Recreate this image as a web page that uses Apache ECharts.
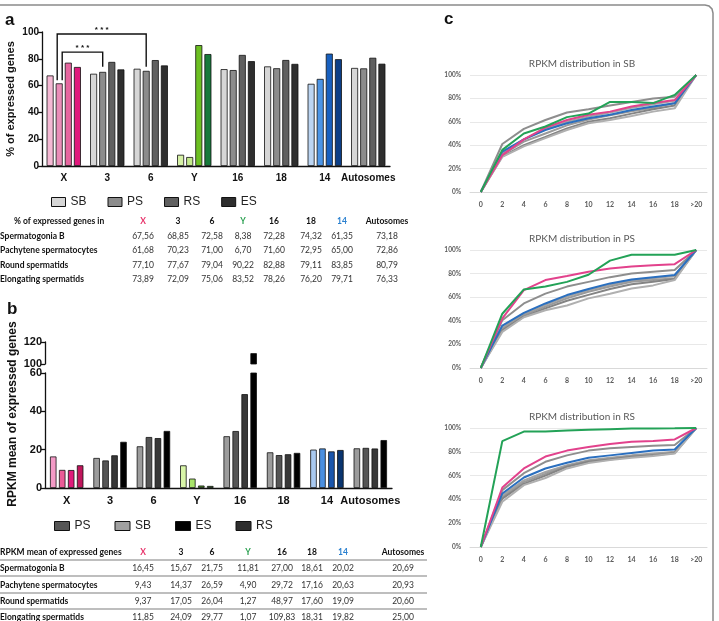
<!DOCTYPE html>
<html><head><meta charset="utf-8">
<script src="https://cdn.jsdelivr.net/npm/echarts@6/dist/echarts.min.js"></script>
<style>html,body{margin:0;padding:0;background:#fff}#c{width:719px;height:621px}</style>
</head><body><div id="c"></div>
<script>
// ---------- DATA ----------
const chromosomes = ['X','3','6','Y','16','18','14','Autosomes'];
const stages = ['SB','PS','RS','ES'];
const stageNames = ['Spermatogonia B','Pachytene spermatocytes','Round spermatids','Elongating spermatids'];
// % of expressed genes (panel a)
const pctSB = [67.56,68.85,72.58,8.38,72.28,74.32,61.35,73.18];
const pctPS = [61.68,70.23,71.00,6.70,71.60,72.95,65.00,72.86];
const pctRS = [77.10,77.67,79.04,90.22,82.88,79.11,83.85,80.79];
const pctES = [73.89,72.09,75.06,83.52,78.26,76.20,79.71,76.33];
// RPKM mean of expressed genes (panel b)
const rpkmSB = [16.45,15.67,21.75,11.81,27.00,18.61,20.02,20.69];
const rpkmPS = [9.43,14.37,26.59,4.90,29.72,17.16,20.63,20.93];
const rpkmRS = [9.37,17.05,26.04,1.27,48.97,17.60,19.09,20.60];
const rpkmES = [11.85,24.09,29.77,1.07,109.83,18.31,19.82,25.00];
// RPKM distribution (panel c), cumulative %
const rpkmBins = ['0','2','4','6','8','10','12','14','16','18','>20'];
const lineNames = ['3','6','16','18','Autosomes','14','X','Y'];
const sb3    = [0,41,54,61.5,68,70.7,74,77,80,81.5,100];
const sb6    = [0,33,45,54,60,64.5,68,72,75,78,100];
const sb16   = [0,32,43,50,57,62,65.5,69,72,76,100];
const sb18   = [0,30.5,40,47,54.4,60,63,67,70.7,74,100];
const sbAuto = [0,30,39,46,53,58.7,61.5,65,68.7,71.5,100];
const sb14   = [0,34.5,45,53,58.7,63,66,70,73,75.8,100];
const sbX    = [0,31.5,45,55,61.5,66,68.7,73,76,78.6,100];
const sbY    = [0,36,50,56,64,67,77,77,76,83,100];
const ps3    = [0,40.5,54.7,63,69,73,77,80,81.6,83,100];
const ps6    = [0,34,46,53.5,60.5,66,70.5,74,76,78,100];
const ps16   = [0,33,44.8,52,59,64.6,69,73,74.5,76,100];
const ps18   = [0,32,43.5,50.5,57,62,67,71,73,75.5,100];
const psAuto = [0,30.6,43,49,53,59,63,67.4,70,74.5,100];
const ps14   = [0,36,46.7,54.7,61.8,67,71.7,75,77,78.8,100];
const psX    = [0,42,66,74.5,78,81.6,84.4,86,87,88,100];
const psY    = [0,46,66.6,69,73,79,91,96,96,96,100];
const rs3    = [0,47.8,62,71.6,77,81,83,84,85,85.7,100];
const rs6    = [0,43.5,56,63,68.8,73,75,77,78.6,80,100];
const rs16   = [0,42,54.5,61.5,68,72.3,74.3,76.4,77.8,79.5,100];
const rs18   = [0,40.7,53,60,67.4,71.6,73.6,75.8,77,79,100];
const rsAuto = [0,38,52,58,66,70.5,73,75,76.5,78.5,100];
const rs14   = [0,45,58.4,66,70.8,75,77,79,81,82,100];
const rsX    = [0,50,66,76,81,84,86.5,88.5,89,90.4,100];
const rsY    = [0,89,97,97,98,98.5,99,99.5,99.5,99.7,100];

// ---------- STYLES ----------
const FF = "'Liberation Sans', Arial, sans-serif";
const TF = "Lato, 'Open Sans', sans-serif";
const palA = {
  X: ['#f5b9d4','#ea8db8','#e6669f','#e0187c'],
  Y: ['#d6f1a6','#c4ea8c','#6cbf22','#17793b'],
  '14': ['#bcd5f2','#4c95e6','#1860bf','#0c3e86'],
  gray: ['#d6d6d6','#8c8c8c','#606060','#2e2e2e']
};
const palB = {
  X: ['#f39ac6','#ea5c97','#e01a7b','#c0165c'],
  Y: ['#d8f5a8','#a8e46a','#4a8f24','#2e6a20'],
  '14': ['#a9c9f0','#4a8fe0','#1a56ad','#0a3570'],
  gray: ['#9c9c9c','#555555','#383838','#000000']
};
const grp = c => (c === 'X' || c === 'Y' || c === '14') ? c : 'gray';
const lineColors = {'3':'#8e8e8e','6':'#a4a4a4','16':'#9a9a9a','18':'#848484','Autosomes':'#b0b0b0','14':'#2a6fbf','X':'#e2428c','Y':'#23a257'};

const pctAll = [pctSB,pctPS,pctRS,pctES];
const rpkmAll = [rpkmSB,rpkmPS,rpkmRS,rpkmES];
const cData = [
  {title:'RPKM distribution in SB', top:75, h:117, d:{'3':sb3,'6':sb6,'16':sb16,'18':sb18,'Autosomes':sbAuto,'14':sb14,'X':sbX,'Y':sbY}},
  {title:'RPKM distribution in PS', top:250, h:118, d:{'3':ps3,'6':ps6,'16':ps16,'18':ps18,'Autosomes':psAuto,'14':ps14,'X':psX,'Y':psY}},
  {title:'RPKM distribution in RS', top:428, h:119, d:{'3':rs3,'6':rs6,'16':rs16,'18':rs18,'Autosomes':rsAuto,'14':rs14,'X':rsX,'Y':rsY}}
];

const blk = '#111';
function catAxis(gi, fs, show) {
  return {type:'category', gridIndex:gi, data:chromosomes, show:show!==false,
    axisLine:{lineStyle:{color:blk,width:1.3}}, axisTick:{show:false},
    axisLabel:{interval:0, fontFamily:FF,fontWeight:'bold',fontSize:fs,color:blk,margin:7}};
}
function valAxis(gi, min, max, fs) {
  return {type:'value', gridIndex:gi, min:min, max:max, interval:20,
    axisLine:{show:true,lineStyle:{color:blk,width:1.3}},
    axisTick:{show:true,length:4,lineStyle:{color:blk,width:1.3}},
    splitLine:{show:false},
    axisLabel:{fontFamily:FF,fontWeight:'bold',fontSize:fs,color:blk,margin:3}};
}

const grids = [
  {left:42, width:348, top:32, height:134},
  {left:45, width:347, top:373, height:115},
  {left:45, width:347, top:342, height:22}
];
const xAxes = [catAxis(0,10), catAxis(1,11), catAxis(2,11,false)];
const yAxes = [valAxis(0,0,100,10), valAxis(1,0,60,11), valAxis(2,100,120,11)];
const series = [];
stages.forEach((s,si)=>{
  series.push({type:'bar', name:s, xAxisIndex:0, yAxisIndex:0, barWidth:7, barGap:'30%',
    itemStyle:{color:palA.gray[si], borderColor:blk, borderWidth:0.8},
    data: pctAll[si].map((v,i)=>({value:v, itemStyle:{color:palA[grp(chromosomes[i])][si]}}))});
});
[1,2].forEach(gi=>{
  stages.forEach((s,si)=>{
    series.push({type:'bar', name:s, xAxisIndex:gi, yAxisIndex:gi, barWidth:6.5, barGap:'38%', clip:true,
      itemStyle:{color:palB.gray[si], borderColor:blk, borderWidth:0.8},
      data: rpkmAll[si].map((v,i)=>({value:v, itemStyle:{color:palB[grp(chromosomes[i])][si]}}))});
  });
});
const titles = [];
cData.forEach((c,k)=>{
  const gi = 3+k;
  grids.push({left:470, width:237, top:c.top, height:c.h});
  xAxes.push({type:'category', gridIndex:gi, data:rpkmBins, boundaryGap:true,
    axisLine:{lineStyle:{color:'#d9d9d9',width:1}}, axisTick:{show:false},
    axisLabel:{interval:0, fontFamily:TF,fontWeight:'bold',fontSize:7,color:'#595959',margin:9}});
  yAxes.push({type:'value', gridIndex:gi, min:0, max:100, interval:20,
    axisLine:{show:false}, axisTick:{show:false},
    splitLine:{lineStyle:{color:'#e8e8e8',width:1}},
    axisLabel:{fontFamily:TF,fontWeight:'bold',fontSize:6.5,color:'#595959',margin:9,formatter:'{value}%'}});
  titles.push({text:c.title, left:577, top:c.top-21, textAlign:'center',
    textStyle:{fontFamily:TF,fontWeight:'normal',fontSize:10,color:'#595959'}});
  lineNames.forEach(n=>{
    series.push({type:'line', name:'c'+k+'_'+n, xAxisIndex:gi, yAxisIndex:gi, data:c.d[n],
      symbol:'none', lineStyle:{color:lineColors[n], width:2}, itemStyle:{color:lineColors[n]}, silent:true});
  });
});

const legendA = ['#d6d6d6','#8c8c8c','#606060','#2e2e2e'];
const legendBNames = ['PS','SB','ES','RS'];
const legendBCol = {SB:'#a0a0a0',PS:'#555555',RS:'#2e2e2e',ES:'#000000'};

const option = {
  animation:false,
  textStyle:{fontFamily:FF},
  title: titles,
  grid: grids, xAxis: xAxes, yAxis: yAxes, series: series,
  legend:[
    {left:46, top:191, itemWidth:14, itemHeight:9, itemGap:21, icon:'rect', selectedMode:false,
     textStyle:{fontFamily:FF,fontSize:12,color:'#222'},
     data: stages.map((n,i)=>({name:n, itemStyle:{color:legendA[i], borderColor:blk, borderWidth:1}}))},
    {left:49, top:515, itemWidth:15, itemHeight:9, itemGap:24, icon:'rect', selectedMode:false,
     textStyle:{fontFamily:FF,fontSize:12,color:'#222'},
     data: legendBNames.map(n=>({name:n, itemStyle:{color:legendBCol[n], borderColor:blk, borderWidth:1}}))}
  ]
};

const chart = echarts.init(document.getElementById('c'), null, {renderer:'canvas'});
chart.setOption(option);

// ---------- annotations & tables ----------
const G = [];
function txt(id, x, y, text, font, fill, align, rot) {
  G.push({type:'text', id:id, x:x, y:y, rotation:rot||0, z:50,
    style:{text:text, font:font, fill:fill||'#111', textAlign:align||'left', align:align||'left',
           textVerticalAlign:'middle', verticalAlign:'middle'}});
}
G.push({type:'polyline', id:'frame', z:40, shape:{points:[[0,5],[705,5],[709,6],[712,9],[713,13],[713,621]]},
  style:{stroke:'#8a8a8a', lineWidth:1.5, fill:null}});
txt('la',5,20,'a','bold 17px '+FF);
txt('lb',7,309,'b','bold 17px '+FF);
txt('lc',444,19,'c','bold 17px '+FF);
txt('yna',11,99,'% of expressed genes','bold 11px '+FF,'#111','center',Math.PI/2);
txt('ynb',13,414,'RPKM mean of expressed genes','bold 12px '+FF,'#111','center',Math.PI/2);

// significance brackets from the bar layout
function barRect(si, idx) {
  try { return chart.getModel().getSeriesByIndex(si).getData().getItemLayout(idx); }
  catch(e) { const p = chart.convertToPixel({gridIndex:0},[idx,0]); return {x:p[0]-8, width:7}; }
}
const yp = v => chart.convertToPixel({gridIndex:0},[0,v])[1];
const bX = barRect(1,0), b3 = barRect(1,1), b6 = barRect(1,2);
const oL = bX.x + 1.5, iL = bX.x + bX.width - 0.5;
const oR = b6.x + b6.width/2, iR = b3.x + b3.width/2;
G.push({type:'polyline', id:'br1', z:45, shape:{points:[[oL,yp(64)],[oL,yp(98.5)],[oR,yp(98.5)],[oR,yp(74)]]},
  style:{stroke:blk,lineWidth:1.4,fill:null}});
G.push({type:'polyline', id:'br2', z:45, shape:{points:[[iL,yp(64)],[iL,yp(85)],[iR,yp(85)],[iR,yp(74)]]},
  style:{stroke:blk,lineWidth:1.4,fill:null}});
txt('st1',(oL+oR)/2,yp(98.5)-4,'* * *','bold 8px '+FF,'#111','center');
txt('st2',(iL+iR)/2,yp(85)-4,'* * *','bold 8px '+FF,'#111','center');

const fmt = v => v.toFixed(2).replace('.',',');
const hdrCol = c => c==='X' ? '#e8336a' : c==='Y' ? '#2aa050' : c==='14' ? '#2a80d0' : '#111';
// table a
const colA = [143,178,212,243,274,311,342,387];
const rowA = [221,236,250,265,279];
txt('tah',14,rowA[0],'% of expressed genes in','bold 8.5px '+TF);
chromosomes.forEach((c,i)=>txt('tahc'+i,colA[i],rowA[0],c,'bold 8.5px '+TF,hdrCol(c),'center'));
pctAll.forEach((arr,r)=>{
  txt('tar'+r,0,rowA[r+1],stageNames[r],'bold 8.5px '+TF);
  arr.forEach((v,i)=>txt('tav'+r+'_'+i,colA[i],rowA[r+1],fmt(v),'8.5px '+TF,'#333','center'));
});
// table b
const colB = [143,181,212,248,282,312,343,403];
const rowB = [552,568,585,601,617];
txt('tbh',0,rowB[0],'RPKM mean of expressed genes','bold 8.5px '+TF);
chromosomes.forEach((c,i)=>txt('tbhc'+i,colB[i],rowB[0],c,'bold 8.5px '+TF,hdrCol(c),'center'));
rpkmAll.forEach((arr,r)=>{
  txt('tbr'+r,0,rowB[r+1],stageNames[r],'bold 8.5px '+TF);
  arr.forEach((v,i)=>txt('tbv'+r+'_'+i,colB[i],rowB[r+1],fmt(v),'8.5px '+TF,'#333','center'));
});
[560,576,593,609].forEach((y,i)=>G.push({type:'line', id:'tbl'+i, z:40, shape:{x1:0,y1:y,x2:427,y2:y},
  style:{stroke:'#a8a8a8', lineWidth:1.3}}));

chart.setOption({graphic:{elements:G}});
</script>
</body></html>
